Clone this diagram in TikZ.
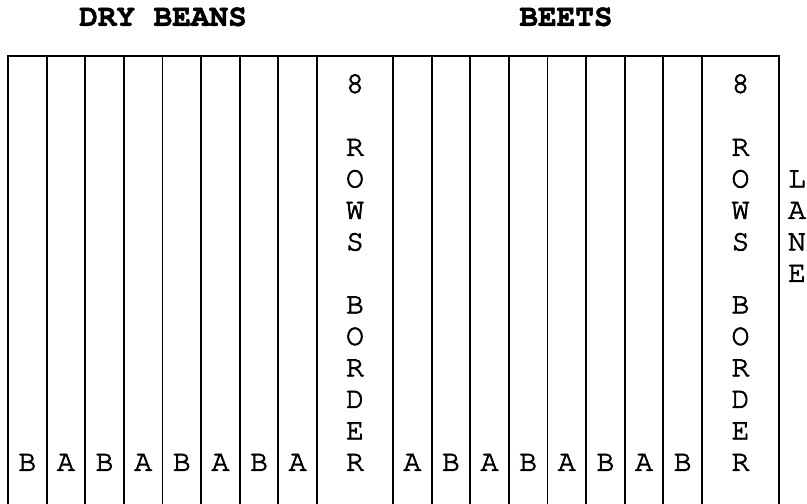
\documentclass[tikz,border=0pt]{standalone}
\usepackage{fontspec}
\newfontfamily\cur{texgyrecursor-regular.otf}[FakeBold=2.5]
\newfontfamily\curb{texgyrecursor-bold.otf}[FakeBold=1.5]
\begin{document}
\begin{tikzpicture}[x=1pt,y=-1pt,
  rule/.style={line width=1.8pt, line cap=rect},
  lab/.style={font=\cur\fontsize{30}{30}\selectfont, inner sep=0pt, text height=0.57em, text depth=0pt, anchor=center},
  ttl/.style={font=\curb\fontsize{31}{31}\selectfont, inner sep=0pt, text height=0.57em, text depth=0pt, anchor=center}]
\useasboundingbox (0,0) rectangle (807,504);
% titles
\node[ttl] (t1) at (163,23) {DRY BEANS};
\node[ttl] (t2) at (566,23) {BEETS};
% top line
\coordinate (tl) at (8,56);
\coordinate (tr) at (779,56);
\draw[rule] (tl) -- (tr);
% left narrow columns lines
\foreach \i in {0,...,8} {
  \coordinate (la\i) at ({8+38.625*\i},56);
  \coordinate (lb\i) at ({8+38.625*\i},504);
  \draw[rule] (la\i) -- (lb\i);
}
% right narrow columns lines
\foreach \i in {0,...,8} {
  \coordinate (ra\i) at ({393+38.625*\i},56);
  \coordinate (rb\i) at ({393+38.625*\i},504);
  \draw[rule] (ra\i) -- (rb\i);
}
\coordinate (ea) at (779,56);
\coordinate (eb) at (779,504);
\draw[rule] (ea) -- (eb);
% bottom letters
\foreach \t [count=\i from 0] in {B,A,B,A,B,A,B,A} {
  \node[lab] (lL\i) at ({8+38.625*(\i+0.5)},468) {\t};
}
\foreach \t [count=\i from 0] in {A,B,A,B,A,B,A,B} {
  \node[lab] (lR\i) at ({393+38.625*(\i+0.5)},468) {\t};
}
% border columns text
\foreach \t/\k in {8/0,R/2,O/3,W/4,S/5,B/7,O/8,R/9,D/10,E/11,R/12} {
  \node[lab] (bl\k) at (355,{90+31.5*\k}) {\t};
  \node[lab] (br\k) at (740.5,{90+31.5*\k}) {\t};
}
% LANE
\foreach \t/\k in {L/3,A/4,N/5,E/6} {
  \node[lab] (ln\k) at (797,{90+31.5*\k}) {\t};
}
\end{tikzpicture}
\end{document}
